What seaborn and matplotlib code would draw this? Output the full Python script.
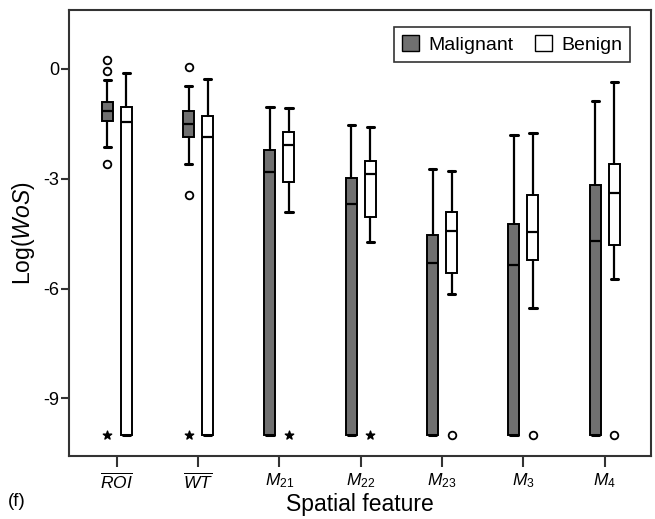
import matplotlib
matplotlib.use('Agg')
import matplotlib.pyplot as plt
import seaborn as sns
from matplotlib.patches import Patch

# Categorias y grupos
features = [r'$\overline{ROI}$', r'$\overline{WT}$', r'$M_{\mathrm{21}}$', r'$M_{\mathrm{22}}$',
            r'$M_{\mathrm{23}}$', r'$M_{\mathrm{3}}$', r'$M_{\mathrm{4}}$']
groups = ['Malignant', 'Benign']
colors = ['#707070', '#ffffff']

# Malignant
mal_whishi = [-0.30, -0.48, -1.05, -1.54, -2.73, -1.81, -0.88]
mal_q3 = [-0.90, -1.16, -2.23, -2.99, -4.53, -4.24, -3.16]
mal_med = [-1.15, -1.52, -2.81, -3.69, -5.29, -5.37, -4.69]
mal_q1 = [-1.42, -1.85, -10, -10, -10, -10, -10]
mal_whislo = [-2.13, -2.60, -10, -10, -10, -10, -10]
mal_out = [[0.25, -0.07, -2.60], [0.04, -3.44], [], [], [], [], []]
mal_ext = [[-10], [-10], [], [], [], [], []]

# Benign
ben_whishi = [-0.12, -0.27, -1.06, -1.60, -2.78, -1.74, -0.35]
ben_q3 = [-1.05, -1.30, -1.72, -2.51, -3.91, -3.44, -2.61]
ben_med = [-1.45, -1.85, -2.07, -2.86, -4.42, -4.46, -3.38]
ben_q1 = [-10, -10, -3.08, -4.06, -5.58, -5.22, -4.81]
ben_whislo = [-10, -10, -3.91, -4.74, -6.15, -6.52, -5.74]
ben_out = [[], [], [], [], [-10], [-10], [-10]]
ben_ext = [[], [], [-10], [-10], [], [], []]

sns.set_style('ticks')
plt.rcParams['font.family'] = ['Liberation Sans', 'DejaVu Sans']
plt.rcParams['mathtext.fontset'] = 'custom'
plt.rcParams['mathtext.rm'] = 'Liberation Sans'
plt.rcParams['mathtext.it'] = 'Liberation Sans:italic'
plt.rcParams['text.color'] = 'black'
plt.rcParams['axes.labelcolor'] = 'black'
plt.rcParams['xtick.labelcolor'] = 'black'
plt.rcParams['ytick.labelcolor'] = 'black'

fig = plt.figure(figsize=(6.55, 5.19), dpi=100)
ax = fig.add_axes([0.105, 0.121, 0.889, 0.860])

series = [
    (mal_whislo, mal_q1, mal_med, mal_q3, mal_whishi, mal_out, mal_ext),
    (ben_whislo, ben_q1, ben_med, ben_q3, ben_whishi, ben_out, ben_ext),
]
offsets = [-0.117, 0.117]
box_w = 0.135

for g, (lo, q1, med, q3, hi, out, ext) in enumerate(series):
    stats = []
    for i in range(len(features)):
        stats.append(dict(whislo=lo[i], q1=q1[i], med=med[i], q3=q3[i],
                          whishi=hi[i], fliers=out[i]))
    pos = [i + offsets[g] for i in range(len(features))]
    ax.bxp(stats, positions=pos, widths=box_w, capwidths=0.09,
           patch_artist=True, showfliers=True, manage_ticks=False,
           boxprops=dict(facecolor=colors[g], edgecolor='black', linewidth=1.4),
           medianprops=dict(color='black', linewidth=1.6),
           whiskerprops=dict(color='black', linewidth=1.6),
           capprops=dict(color='black', linewidth=2.2),
           flierprops=dict(marker='o', markerfacecolor='white',
                           markeredgecolor='black', markersize=5.5,
                           markeredgewidth=1.3))
    # valores extremos (estrellas)
    ex_x = [i + offsets[g] for i in range(len(features)) for _ in ext[i]]
    ex_y = [v for i in range(len(features)) for v in ext[i]]
    ax.scatter(ex_x, ex_y, marker='*', s=40, color='black', zorder=3)

ax.set_xlim(-0.59, 6.57)
ax.set_ylim(-10.58, 1.61)
ax.set_xticks(range(len(features)))
ax.set_xticklabels(features, fontsize=12.5)
ax.set_yticks([0, -3, -6, -9])
ax.set_yticklabels(['0', '-3', '-6', '-9'], fontsize=13)
ax.tick_params(axis='x', length=8, width=1.5, color='#333333', pad=3)
ax.tick_params(axis='y', length=6, width=1.5, color='#333333', pad=1)
for sp in ax.spines.values():
    sp.set_linewidth(1.5)
    sp.set_color('#333333')

ax.set_xlabel('Spatial feature', fontsize=16.5, labelpad=1)
ax.set_ylabel(r'Log($\mathit{WoS}$)', fontsize=16.5, labelpad=4)

handles = [Patch(facecolor=colors[0], edgecolor='black', label=groups[0]),
           Patch(facecolor=colors[1], edgecolor='black', label=groups[1])]
leg = ax.legend(handles=handles, loc='upper right', ncol=2, fontsize=14,
                frameon=True, fancybox=False, edgecolor='black',
                handlelength=0.9, handleheight=0.9, handletextpad=0.45,
                columnspacing=1.1, borderpad=0.4, bbox_to_anchor=(0.98, 0.983))
leg.get_frame().set_linewidth(1.2)

fig.text(0.012, 0.025, '(f)', fontsize=13.5)

fig.savefig('out.png', dpi=100)
